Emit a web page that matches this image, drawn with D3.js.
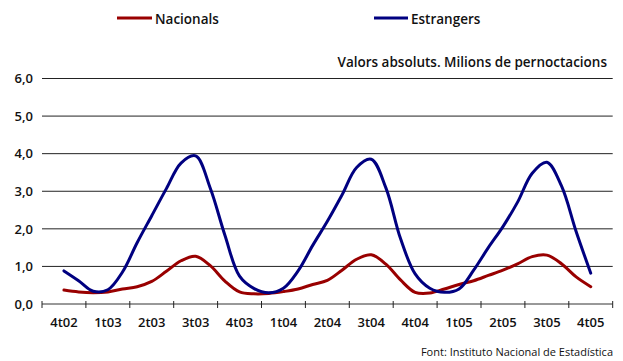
<!DOCTYPE html>
<html>
<head>
<meta charset="utf-8">
<script src="https://cdn.jsdelivr.net/npm/d3@7"></script>
<style>
  html, body { margin: 0; padding: 0; background: #fff; }
  svg { display: block; }
  text { font-family: "Open Sans", "DejaVu Sans", sans-serif; fill: #111; }
</style>
</head>
<body>
<svg id="chart" width="623" height="361"></svg>
<script>
// Quarter labels on the category axis (Oct 2002 – Dec 2005)
const quarters = ["4t02","1t03","2t03","3t03","4t03","1t04","2t04","3t04","4t04","1t05","2t05","3t05","4t05"];

// Monthly observations, Nov 2002 – Nov 2005
const months = [
  "nov02","des02","gen03","feb03","mar03","abr03","mai03","jun03","jul03","ago03","set03","oct03",
  "nov03","des03","gen04","feb04","mar04","abr04","mai04","jun04","jul04","ago04","set04","oct04",
  "nov04","des04","gen05","feb05","mar05","abr05","mai05","jun05","jul05","ago05","set05","oct05","nov05"
];

// Overnight stays, millions
const nacionals = [
  0.37,0.32,0.30,0.32,0.40,0.46,0.60,0.87,1.15,1.27,1.02,0.61,
  0.32,0.27,0.28,0.33,0.40,0.52,0.63,0.90,1.19,1.31,1.06,0.64,
  0.31,0.29,0.40,0.52,0.62,0.76,0.90,1.07,1.26,1.30,1.07,0.72,0.46
];
const estrangers = [
  0.88,0.62,0.34,0.38,0.85,1.63,2.35,3.07,3.75,3.94,3.08,1.83,
  0.74,0.41,0.30,0.42,0.88,1.56,2.20,2.90,3.63,3.85,3.09,1.74,
  0.80,0.42,0.31,0.40,0.90,1.50,2.06,2.71,3.48,3.77,3.14,1.93,0.82
];

const yTicks = [0,1,2,3,4,5,6];

const seriesNames = ["Nacionals","Estrangers"];
const seriesColors = ["#990000","#000080"];

const svg = d3.select("#chart");
const plotLeft = 42, plotRight = 612.7, plotTop = 78.5, plotBottom = 304;

// Month-level x scale: Oct 2002 starts at 0, each quarter spans 3 months
const x = d3.scaleLinear().domain([0, quarters.length * 3]).range([plotLeft, plotRight]);
const xq = d3.scaleBand().domain(quarters).range([plotLeft, plotRight]);
const y = d3.scaleLinear().domain([0, 6]).range([plotBottom, plotTop]);

// Horizontal gridlines
svg.append("g")
  .selectAll("line")
  .data(yTicks.filter(d => d > 0))
  .join("line")
  .attr("x1", plotLeft).attr("x2", plotRight)
  .attr("y1", d => y(d)).attr("y2", d => y(d))
  .attr("stroke", "#222").attr("stroke-width", 1);

// Y axis labels
const yAxis = d3.axisLeft(y).tickValues(yTicks).tickSize(0).tickPadding(9)
  .tickFormat(d => d3.format(".1f")(d).replace(".", ","));
svg.append("g")
  .attr("transform", `translate(${plotLeft},0)`)
  .call(yAxis)
  .call(g => g.select(".domain").remove())
  .call(g => g.selectAll("text")
    .attr("font-family", "'Open Sans', sans-serif")
    .attr("font-size", 13).attr("font-weight", 600).attr("fill", "#111"));

// X axis: baseline with quarter boundary ticks
const xAxisG = svg.append("g");
xAxisG.append("line")
  .attr("x1", plotLeft).attr("x2", plotRight)
  .attr("y1", plotBottom).attr("y2", plotBottom)
  .attr("stroke", "#333").attr("stroke-width", 1);
xAxisG.selectAll("line.tick")
  .data(d3.range(0, quarters.length * 3 + 1, 3))
  .join("line")
  .attr("class", "tick")
  .attr("x1", d => x(d)).attr("x2", d => x(d))
  .attr("y1", plotBottom - 3).attr("y2", plotBottom + 4)
  .attr("stroke", "#222").attr("stroke-width", 1);

// Quarter labels centred in their bands
const xAxis = d3.axisBottom(xq).tickSize(0).tickPadding(14);
svg.append("g")
  .attr("transform", `translate(0,${plotBottom})`)
  .call(xAxis)
  .call(g => g.select(".domain").remove())
  .call(g => g.selectAll("text")
    .attr("font-family", "'Open Sans', sans-serif")
    .attr("font-size", 13).attr("font-weight", 600).attr("fill", "#111"));

// Series lines; monthly points sit at month centres starting with November 2002
const monthPos = i => x(i + 1 + 0.5);
const line = d3.line()
  .x((d, i) => monthPos(i))
  .y(d => y(d))
  .curve(d3.curveCatmullRom.alpha(0.5));

[nacionals, estrangers].forEach((vals, k) => {
  svg.append("path")
    .datum(vals)
    .attr("d", line)
    .attr("fill", "none")
    .attr("stroke", seriesColors[k])
    .attr("stroke-width", 3)
    .attr("stroke-linejoin", "round")
    .attr("stroke-linecap", "round");
});

// Legend
const legendPos = [[117, 152, 155], [374, 408, 411]];
seriesNames.forEach((name, k) => {
  const [x1, x2, tx] = legendPos[k];
  svg.append("line")
    .attr("x1", x1).attr("x2", x2).attr("y1", 18).attr("y2", 18)
    .attr("stroke", seriesColors[k]).attr("stroke-width", 3);
  svg.append("text")
    .attr("x", tx).attr("y", 24)
    .attr("font-size", 13.5).attr("font-weight", 600)
    .text(name);
});

// Units note
svg.append("text")
  .attr("x", 607).attr("y", 67)
  .attr("text-anchor", "end")
  .attr("font-size", 13.5).attr("font-weight", 600)
  .text("Valors absoluts. Milions de pernoctacions");

// Source
svg.append("text")
  .attr("x", 613).attr("y", 356)
  .attr("text-anchor", "end")
  .attr("font-size", 11)
  .text("Font: Instituto Nacional de Estadística");
</script>
</body>
</html>
